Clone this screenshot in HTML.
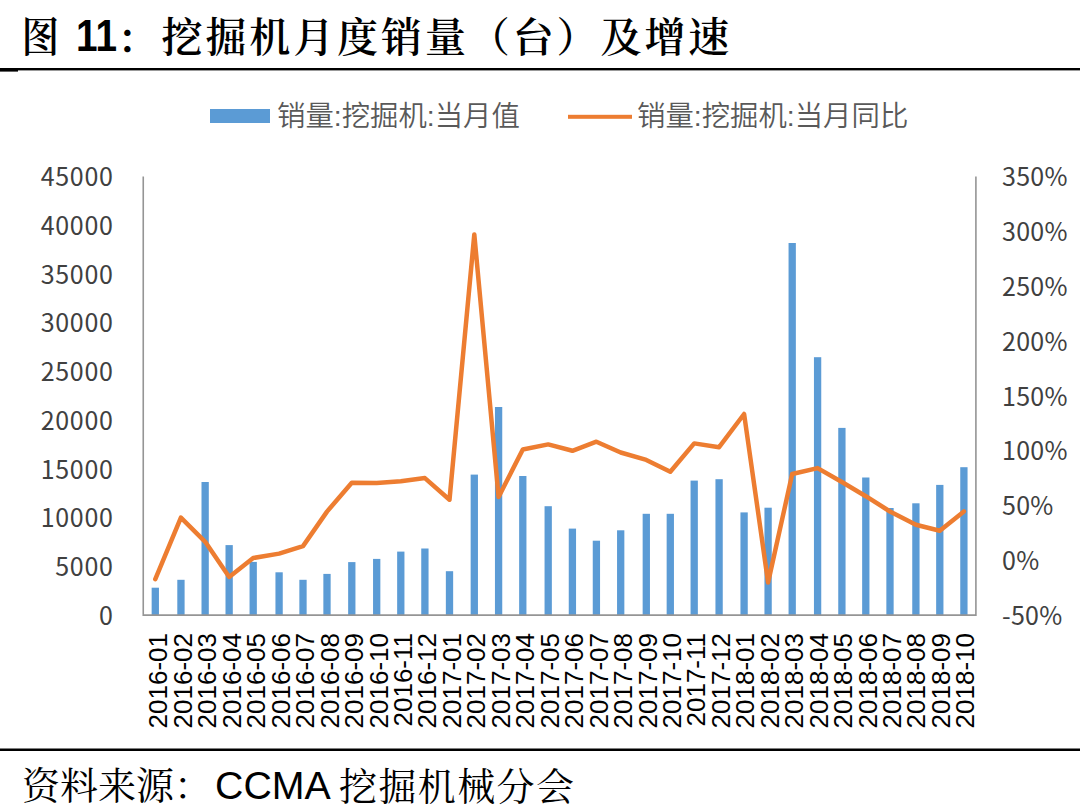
<!DOCTYPE html>
<html lang="zh-CN"><head><meta charset="utf-8"><title>图 11：挖掘机月度销量（台）及增速</title>
<style>
html,body{margin:0;padding:0;background:#fff;}
body{width:1080px;height:812px;overflow:hidden;position:relative;}
svg{display:block;position:absolute;left:0;top:0;}
.title{font-family:"Liberation Serif","Noto Serif CJK SC",serif;font-weight:600;font-size:41px;fill:#000;}
.title.num{font-family:"Liberation Sans",sans-serif;font-weight:700;font-size:45px;}
.leg{font-family:"Liberation Sans","Noto Sans CJK SC",sans-serif;font-size:28.4px;font-weight:350;fill:#595959;}
.ax{font-family:"Noto Sans CJK SC",sans-serif;font-size:25px;letter-spacing:0.7px;fill:#404040;dominant-baseline:central;}
.ax .r{letter-spacing:0.25px;}
.xl{font-family:"Liberation Sans",sans-serif;font-size:26px;fill:#000;dominant-baseline:central;text-anchor:end;}
.src{font-family:"Liberation Serif","Noto Serif CJK SC",serif;font-size:38px;fill:#000;}
.src.srcl{font-family:"Liberation Sans",sans-serif;font-size:39.3px;}
</style></head><body>
<svg width="1080" height="812" viewBox="0 0 1080 812">
<rect width="1080" height="812" fill="#fff"/>
<text class="title" transform="translate(21.4,51.5) scale(0.92,1.02)">图</text>
<text class="title num" x="76" y="50.5" textLength="41" lengthAdjust="spacingAndGlyphs">11</text>
<text class="title" x="117" y="52.5">：</text>
<text class="title" x="161.5" y="52" style="letter-spacing:2.9px">挖掘机月度销量（台）及增速</text>
<rect x="0" y="68" width="1080" height="2.4" fill="#000"/>
<rect x="0" y="69" width="18" height="2.6" fill="#000"/>
<rect x="210" y="109" width="60" height="14" fill="#5B9BD5"/>
<text class="leg" x="277" y="126">销量:挖掘机:当月值</text>
<rect x="568" y="114.8" width="64" height="4" fill="#ED7D31"/>
<text class="leg" x="637" y="126">销量:挖掘机:当月同比</text>
<g fill="#5B9BD5">
<rect x="151.65" y="587.7" width="7.3" height="27.4"/>
<rect x="177.30" y="579.8" width="7.3" height="35.3"/>
<rect x="201.50" y="482.0" width="7.3" height="133.1"/>
<rect x="225.50" y="545.1" width="7.3" height="70.0"/>
<rect x="249.55" y="561.9" width="7.3" height="53.2"/>
<rect x="275.45" y="572.3" width="7.3" height="42.8"/>
<rect x="299.35" y="579.8" width="7.3" height="35.3"/>
<rect x="323.35" y="573.9" width="7.3" height="41.2"/>
<rect x="348.15" y="562.1" width="7.3" height="53.0"/>
<rect x="373.05" y="558.9" width="7.3" height="56.2"/>
<rect x="397.15" y="551.6" width="7.3" height="63.5"/>
<rect x="421.25" y="548.5" width="7.3" height="66.6"/>
<rect x="445.85" y="571.2" width="7.3" height="43.9"/>
<rect x="470.65" y="474.6" width="7.3" height="140.5"/>
<rect x="494.95" y="407.0" width="7.3" height="208.1"/>
<rect x="519.15" y="476.0" width="7.3" height="139.1"/>
<rect x="544.55" y="506.2" width="7.3" height="108.9"/>
<rect x="568.75" y="528.6" width="7.3" height="86.5"/>
<rect x="592.75" y="540.7" width="7.3" height="74.4"/>
<rect x="617.05" y="530.3" width="7.3" height="84.8"/>
<rect x="642.65" y="513.8" width="7.3" height="101.3"/>
<rect x="666.65" y="513.8" width="7.3" height="101.3"/>
<rect x="690.55" y="480.6" width="7.3" height="134.5"/>
<rect x="715.45" y="479.2" width="7.3" height="135.9"/>
<rect x="740.45" y="512.4" width="7.3" height="102.7"/>
<rect x="764.45" y="507.7" width="7.3" height="107.4"/>
<rect x="788.55" y="243.0" width="7.3" height="372.1"/>
<rect x="813.95" y="357.2" width="7.3" height="257.9"/>
<rect x="838.25" y="427.9" width="7.3" height="187.2"/>
<rect x="862.15" y="477.5" width="7.3" height="137.6"/>
<rect x="886.35" y="508.0" width="7.3" height="107.1"/>
<rect x="912.25" y="503.3" width="7.3" height="111.8"/>
<rect x="936.15" y="484.9" width="7.3" height="130.2"/>
<rect x="960.25" y="467.2" width="7.3" height="147.9"/>
</g>
<path d="M143.25,176.5 V615.1 H975.9 V176.5" fill="none" stroke="#959595" stroke-width="1.6"/>
<polyline points="155.3,579.2 180.9,517.7 205.2,541.8 229.2,576.9 253.2,558.0 279.1,553.6 303.0,546.1 327.0,511.6 351.8,482.7 376.7,483.0 400.8,481.3 424.9,478.1 449.5,499.7 474.3,234.5 498.6,497.0 522.8,449.5 548.2,444.4 572.4,450.8 596.4,441.7 620.7,452.5 646.3,459.9 670.3,471.7 694.2,443.4 719.1,447.2 744.1,414.0 768.1,582.5 792.2,474.0 817.6,468.1 841.9,482.0 865.8,496.2 890.0,511.5 915.9,524.8 939.8,530.8 963.9,511.5" fill="none" stroke="#ED7D31" stroke-width="4.5" stroke-linejoin="round" stroke-linecap="round"/>
<g class="ax" text-anchor="end">
<text x="113.6" y="175.2">45000</text>
<text x="113.6" y="223.9">40000</text>
<text x="113.6" y="272.7">35000</text>
<text x="113.6" y="321.4">30000</text>
<text x="113.6" y="370.1">25000</text>
<text x="113.6" y="418.9">20000</text>
<text x="113.6" y="467.6">15000</text>
<text x="113.6" y="516.3">10000</text>
<text x="113.6" y="565.1">5000</text>
<text x="113.6" y="613.8">0</text>
</g>
<g class="ax" text-anchor="start">
<text class="r" x="1002" y="175.2">350%</text>
<text class="r" x="1002" y="230.0">300%</text>
<text class="r" x="1002" y="284.8">250%</text>
<text class="r" x="1002" y="339.7">200%</text>
<text class="r" x="1002" y="394.5">150%</text>
<text class="r" x="1002" y="449.3">100%</text>
<text class="r" x="1002" y="504.2">50%</text>
<text class="r" x="1002" y="559.0">0%</text>
<text class="r" x="1002" y="613.8">-50%</text>
</g>
<g class="xl">
<text transform="translate(158.4,633) rotate(-90)">2016-01</text>
<text transform="translate(182.9,633) rotate(-90)">2016-02</text>
<text transform="translate(207.3,633) rotate(-90)">2016-03</text>
<text transform="translate(231.8,633) rotate(-90)">2016-04</text>
<text transform="translate(256.2,633) rotate(-90)">2016-05</text>
<text transform="translate(280.7,633) rotate(-90)">2016-06</text>
<text transform="translate(305.1,633) rotate(-90)">2016-07</text>
<text transform="translate(329.6,633) rotate(-90)">2016-08</text>
<text transform="translate(354.0,633) rotate(-90)">2016-09</text>
<text transform="translate(378.5,633) rotate(-90)">2016-10</text>
<text transform="translate(402.9,633) rotate(-90)">2016-11</text>
<text transform="translate(427.4,633) rotate(-90)">2016-12</text>
<text transform="translate(451.8,633) rotate(-90)">2017-01</text>
<text transform="translate(476.3,633) rotate(-90)">2017-02</text>
<text transform="translate(500.8,633) rotate(-90)">2017-03</text>
<text transform="translate(525.2,633) rotate(-90)">2017-04</text>
<text transform="translate(549.6,633) rotate(-90)">2017-05</text>
<text transform="translate(574.1,633) rotate(-90)">2017-06</text>
<text transform="translate(598.5,633) rotate(-90)">2017-07</text>
<text transform="translate(623.0,633) rotate(-90)">2017-08</text>
<text transform="translate(647.5,633) rotate(-90)">2017-09</text>
<text transform="translate(671.9,633) rotate(-90)">2017-10</text>
<text transform="translate(696.3,633) rotate(-90)">2017-11</text>
<text transform="translate(720.8,633) rotate(-90)">2017-12</text>
<text transform="translate(745.2,633) rotate(-90)">2018-01</text>
<text transform="translate(769.7,633) rotate(-90)">2018-02</text>
<text transform="translate(794.1,633) rotate(-90)">2018-03</text>
<text transform="translate(818.6,633) rotate(-90)">2018-04</text>
<text transform="translate(843.0,633) rotate(-90)">2018-05</text>
<text transform="translate(867.5,633) rotate(-90)">2018-06</text>
<text transform="translate(892.0,633) rotate(-90)">2018-07</text>
<text transform="translate(916.4,633) rotate(-90)">2018-08</text>
<text transform="translate(940.8,633) rotate(-90)">2018-09</text>
<text transform="translate(965.3,633) rotate(-90)">2018-10</text>
</g>
<rect x="0" y="748.5" width="1080" height="2.5" fill="#000"/>
<text class="src" x="22" y="799">资料来源：</text>
<text class="src srcl" x="215" y="799.2">CCMA</text>
<text class="src" x="339" y="799.5" style="letter-spacing:1.4px">挖掘机械分会</text>
</svg>
</body></html>
